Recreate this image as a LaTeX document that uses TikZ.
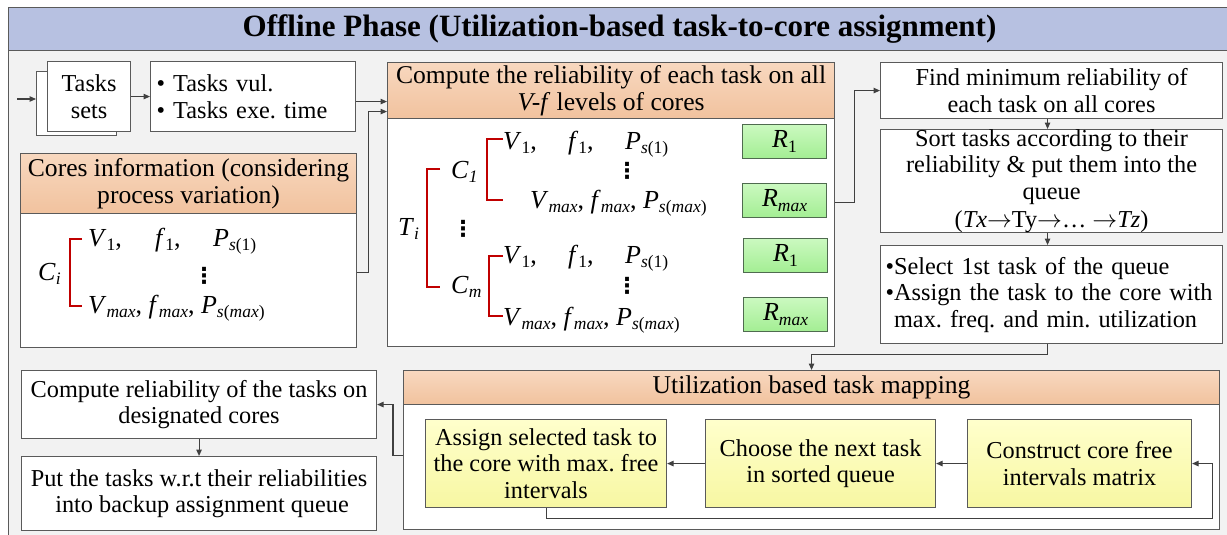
\documentclass[tikz,border=0pt]{standalone}
\usepackage{fontspec}
\setmainfont{Liberation Serif}
\newfontfamily\dotsfont{DejaVu Sans}
\usetikzlibrary{arrows.meta,calc}
\frenchspacing

\definecolor{framegray}{HTML}{5A5A5A}
\definecolor{linegray}{HTML}{404040}
\definecolor{titleblue}{HTML}{B7C1E1}
\definecolor{panelgray}{HTML}{F2F2F2}
\definecolor{peachtop}{HTML}{F8D8BF}
\definecolor{peachbot}{HTML}{F1C29E}
\definecolor{greentop}{HTML}{CBF9C0}
\definecolor{greenbot}{HTML}{A3EE93}
\definecolor{greenedge}{HTML}{4F6B4F}
\definecolor{yellowtop}{HTML}{FFFFCC}
\definecolor{yellowbot}{HTML}{F7F7A2}
\definecolor{bracketred}{HTML}{C00000}

\newcommand\bodyfont{\fontsize{24.3}{26.5}\selectfont}
\newcommand\headfont{\fontsize{25.6}{27}\selectfont}
\newcommand\titlefont{\fontsize{31}{33}\selectfont\bfseries}
\newcommand\symfont{\fontsize{26}{28}\selectfont}
% lowered index text
\newcommand\lo[1]{\raisebox{-0.35ex}{\fontsize{17.5}{18}\selectfont #1}}
% heavy vertical ellipsis
\newcommand\vdotsb{{\dotsfont\bfseries\fontsize{22}{22}\selectfont ⋮}}
\newcommand\rarr{\ensuremath{\rightarrow}}

\tikzset{
  x=1pt, y=-1pt,
  sz/.style 2 args={minimum width=#1pt, minimum height=#2pt},
  blk/.style={draw=framegray, line width=1.1pt, fill=white, inner sep=0pt,
              anchor=north west, align=center, font=\bodyfont},
  hdr/.style={blk, top color=peachtop, bottom color=peachbot, font=\headfont},
  rbox/.style={blk, draw=greenedge, top color=greentop, bottom color=greenbot, font=\symfont},
  ybox/.style={blk, top color=yellowtop, bottom color=yellowbot},
  arr/.style={draw=linegray, line width=1.1pt, -{Triangle[length=6.5pt,width=5.5pt]}},
  brk/.style={draw=bracketred, line width=1.7pt},
  sym/.style={inner sep=0pt, anchor=base west, font=\symfont},
  dts/.style={inner sep=0pt, anchor=center},
}

\begin{document}
\begin{tikzpicture}
\useasboundingbox (0,0) rectangle (1227,535);

% outer panel and title band
\node[blk, fill=panelgray, sz={1222}{532}] (panel) at (8,7) {};
\node[blk, fill=titleblue, sz={1222}{43}, font=\titlefont] (title) at (8,7)
  {Offline Phase (Utilization-based task-to-core assignment)};

% task inputs
\node[blk, sz={80}{64}] (tsb) at (36,71) {};
\node[blk, sz={83}{70}] (ts) at (47,61) {Tasks\\sets};
\coordinate (in) at (17,99);
\node[blk, sz={205}{70}, text width=193pt, inner xsep=6pt, align=left] (vul) at (150,61)
  {\textbullet\ Tasks vul.\\\textbullet\ Tasks exe. time};

% cores information
\node[hdr, sz={336}{60}] (cih) at (20,153) {Cores information (considering\\process variation)};
\node[blk, sz={336}{134}] (cib) at (20,213) {};
\node[sym] (ci) at (38,280) {\textit{C}\lo{\textit{i}}};
\draw[brk] (82,239) -- (70,239) -- (70,306) -- (82,306);
\node[sym] (civ) at (88,246) {\textit{V}\lo{1},};
\node[sym] (cif) at (155,246) {\textit{f}\lo{1},};
\node[sym] (cip) at (213,246) {\textit{P}\lo{\textit{s}(1)}};
\node[dts] (cid) at (204,276) {\vdotsb};
\node[sym] (cim) at (88,313) {\textit{V}\lo{\textit{max}}, \textit{f}\lo{\textit{max}}, \textit{P}\lo{\textit{s}(\textit{max})}};

% reliability on all V-f levels
\node[hdr, sz={447}{56}] (crh) at (387,62) {Compute the reliability of each task on all\\\textit{V-f} levels of cores};
\node[blk, sz={447}{228}] (crb) at (387,118) {};
\node[sym] (ti) at (398,235) {\textit{T}\lo{\textit{i}}};
\draw[brk] (440,169) -- (427,169) -- (427,287) -- (440,287);
\node[sym] (c1) at (451,178) {\textit{C}\lo{\textit{1}}};
\node[dts] (cdots) at (463,229) {\vdotsb};
\node[sym] (cm) at (451,293) {\textit{C}\lo{\textit{m}}};
\draw[brk] (503,139) -- (487,139) -- (487,200) -- (503,200);
\node[sym] (a1v) at (503,149) {\textit{V}\lo{1},};
\node[sym] (a1f) at (568,149) {\textit{f}\lo{1},};
\node[sym] (a1p) at (625,149) {\textit{P}\lo{\textit{s}(1)}};
\node[dts] (a1d) at (627,171) {\vdotsb};
\node[sym] (a1m) at (530,208) {\textit{V}\lo{\textit{max}}, \textit{f}\lo{\textit{max}}, \textit{P}\lo{\textit{s}(\textit{max})}};
\draw[brk] (503,256) -- (489,256) -- (489,316) -- (503,316);
\node[sym] (a2v) at (503,263) {\textit{V}\lo{1},};
\node[sym] (a2f) at (568,263) {\textit{f}\lo{1},};
\node[sym] (a2p) at (625,263) {\textit{P}\lo{\textit{s}(1)}};
\node[dts] (a2d) at (627,286) {\vdotsb};
\node[sym] (a2m) at (503,325) {\textit{V}\lo{\textit{max}}, \textit{f}\lo{\textit{max}}, \textit{P}\lo{\textit{s}(\textit{max})}};
\node[rbox, sz={84}{34}] (r11) at (742,124) {\textit{R}\lo{1}};
\node[rbox, sz={84}{34}] (rm1) at (742,183) {\textit{R}\lo{\textit{max}}};
\node[rbox, sz={84}{34}] (r12) at (743,238) {\textit{R}\lo{1}};
\node[rbox, sz={84}{34}] (rm2) at (743,297) {\textit{R}\lo{\textit{max}}};

% ordering column
\node[blk, sz={342}{56}] (find) at (880,62) {Find minimum reliability of\\each task on all cores};
\node[blk, sz={342}{103}] (sort) at (880,129)
  {Sort tasks according to their\\reliability \& put them into the\\queue\\[1.5pt](\textit{Tx}\rarr Ty\rarr… \rarr\textit{Tz})};
\node[blk, sz={342}{98}, text width=332pt, inner xsep=5pt, align=left] (sel) at (880,245)
  {\textbullet Select 1st task of the queue\\\textbullet Assign the task to the core with\\\hphantom{\textbullet}max. freq. and min. utilization};

% utilization based mapping
\node[hdr, sz={816}{34}] (uh) at (403,370) {Utilization based task mapping};
\node[blk, sz={816}{125}] (ub) at (403,404) {};
\node[ybox, sz={241}{88}] (b1) at (425,419) {Assign selected task to\\the core with max. free\\intervals};
\node[ybox, sz={230}{88}] (b2) at (705,419) {Choose the next task\\in sorted queue};
\node[ybox, sz={224}{88}] (b3) at (967,419) {Construct core free\\intervals matrix};

% backup stage
\node[blk, sz={355}{68}] (cr) at (21,370) {Compute reliability of the tasks on\\designated cores};
\node[blk, sz={355}{74}] (put) at (21,456) {Put the tasks w.r.t their reliabilities\\\ into backup assignment queue};

% connector anchor points
\coordinate (vulout) at ($(vul.east)+(0,5)$);
\coordinate (ciout) at ($(cib.east)+(0,-8)$);
\coordinate (crin) at ($(crh.west)+(0,21)$);
\coordinate (crout) at ($(crb.east)+(0,-30)$);
\coordinate (findout) at ($(find.south)+(-4,0)$);
\coordinate (sortout) at ($(sort.south)+(-4,0)$);
\coordinate (selout) at ($(sel.south)+(-4,0)$);
\coordinate (loop) at ($(b3.east)+(20,0)$);
\coordinate (ubout) at ($(ub.west)+(0,-12)$);

% connectors
\draw[arr] (in) -- (in -| tsb.west);
\draw[arr] (ts.east) -- (ts.east -| vul.west);
\draw[arr] (vulout) -- (vulout -| crh.west);
\draw[arr] (ciout) -- ++(11,0) |- (crin);
\draw[arr] (crout) -- ++(19,0) |- (find.west);
\draw[arr] (findout) -- (findout |- sort.north);
\draw[arr] (sortout) -- (sortout |- sel.north);
\draw[arr] (selout) -- ++(0,10) -| (uh.north);
\draw[arr] (b3.west) -- (b2.east);
\draw[arr] (b2.west) -- (b1.east);
\draw[arr] (b1.south) -- ++(0,10) -| (loop) -- (b3.east);
\draw[arr] (ubout) -- ++(-10,0) |- (cr.east);
\draw[arr] (cr.south) -- (put.north);
\end{tikzpicture}
\end{document}
